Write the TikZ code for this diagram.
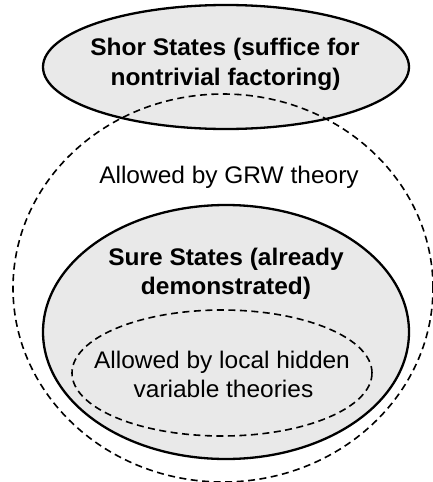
\documentclass[tikz,border=0pt]{standalone}
\usepackage{fontspec}
\setmainfont[FakeStretch=1.02]{Liberation Sans}
\usetikzlibrary{shapes.geometric}
\definecolor{shapefill}{RGB}{233,233,233}
\begin{document}
\begin{tikzpicture}[x=1pt,y=-1pt,
  setshape/.style={ellipse, draw=black, line width=2.3pt, fill=shapefill, inner sep=0pt},
  dashset/.style={ellipse, draw=black, line width=1.6pt, dash pattern=on 7pt off 4.5pt, inner sep=0pt},
  title/.style={font=\fontsize{24}{29}\selectfont\bfseries, anchor=base, inner sep=0pt},
  plain/.style={font=\fontsize{24}{29}\selectfont, anchor=base, inner sep=0pt}]
\useasboundingbox (0,0) rectangle (433,482);
\node[setshape, minimum width=366pt, minimum height=124pt] (shor) at (226,67) {};
\node[dashset, minimum width=420pt, minimum height=388pt] (grw) at (223,288) {};
\node[setshape, minimum width=366pt, minimum height=254pt] (sure) at (226,332) {};
\node[dashset, minimum width=300pt, minimum height=126pt] (lhv) at (222,373) {};
\node[title] (shor1) at (225,55) {Shor States (suffice for};
\node[title] (shor2) at (225.5,85) {nontrivial factoring)};
\node[plain] (grwtext) at (229,183) {Allowed by GRW theory};
\node[title] (sure1) at (226,265) {Sure States (already};
\node[title] (sure2) at (226,294) {demonstrated)};
\node[plain] (lhv1) at (222,368) {Allowed by local hidden};
\node[plain] (lhv2) at (223.5,397) {variable theories};
\end{tikzpicture}
\end{document}
